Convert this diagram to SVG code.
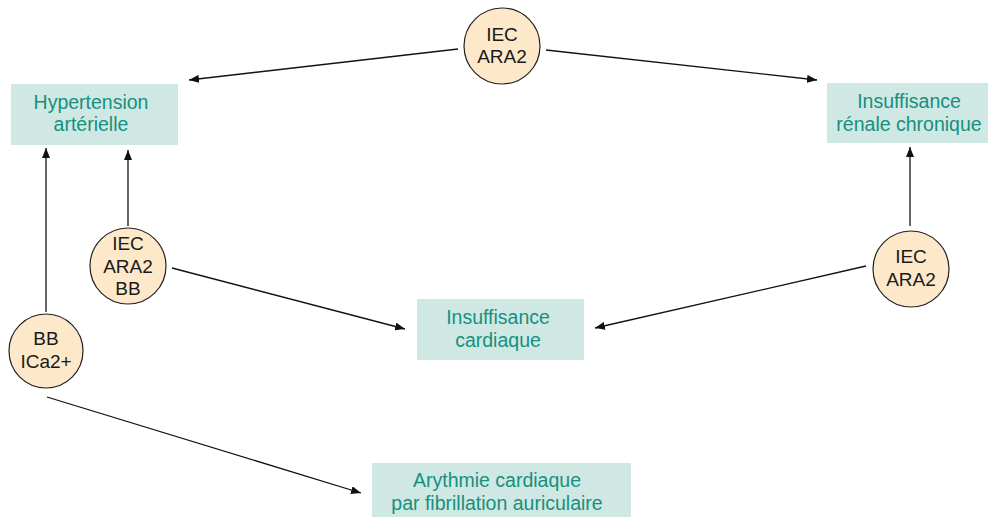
<svg xmlns="http://www.w3.org/2000/svg" width="988" height="517" viewBox="0 0 988 517">
<style>
.box{fill:#cfe8e3}
.bt{font-family:"Liberation Sans",Arial,sans-serif;font-size:19.5px;fill:#16907f;text-anchor:middle}
.node circle{fill:#fde8c9;stroke:#222;stroke-width:1.2}
.ct{font-family:"Liberation Sans",Arial,sans-serif;font-size:19px;fill:#1a1a1a;text-anchor:middle}
.edge{stroke:#111;stroke-width:1.3;fill:none;marker-end:url(#ah)}
</style>
<defs>
<marker id="ah" viewBox="0 0 10 8" refX="10" refY="4" markerWidth="10" markerHeight="8" markerUnits="userSpaceOnUse" orient="auto">
<path d="M0,0 L10,4 L0,8 Z" fill="#111"/>
</marker>
</defs>
<g id="connectors">
<line class="edge" x1="458" y1="49" x2="189" y2="80"/>
<line class="edge" x1="546" y1="50" x2="817" y2="80"/>
<line class="edge" x1="46" y1="312" x2="46" y2="148"/>
<line class="edge" x1="128" y1="226" x2="128" y2="150"/>
<line class="edge" x1="172" y1="268" x2="405" y2="329"/>
<line class="edge" x1="866" y1="266" x2="595" y2="328"/>
<line class="edge" x1="910" y1="226" x2="910" y2="147"/>
<line class="edge" x1="47" y1="397" x2="361" y2="493"/>
</g>
<g id="hta"><rect class="box" x="11" y="84" width="167" height="61"/><text class="bt" x="91" y="108.5">Hypertension</text><text class="bt" x="91" y="131">artérielle</text></g>
<g id="irc"><rect class="box" x="827" y="83" width="161" height="60"/><text class="bt" x="909" y="108">Insuffisance</text><text class="bt" x="909" y="130.5">rénale chronique</text></g>
<g id="ic"><rect class="box" x="417" y="299" width="167" height="61"/><text class="bt" x="498" y="324">Insuffisance</text><text class="bt" x="498" y="346.5">cardiaque</text></g>
<g id="acfa"><rect class="box" x="372" y="463" width="259" height="54"/><text class="bt" x="497" y="487">Arythmie cardiaque</text><text class="bt" x="497" y="509.5">par fibrillation auriculaire</text></g>
<g id="n-top" class="node"><circle cx="502" cy="46" r="38"/><text class="ct" x="502" y="40.5">IEC</text><text class="ct" x="502" y="63">ARA2</text></g>
<g id="n-left" class="node"><circle cx="128" cy="266" r="38"/><text class="ct" x="128" y="250">IEC</text><text class="ct" x="128" y="272.5">ARA2</text><text class="ct" x="128" y="295">BB</text></g>
<g id="n-bb" class="node"><circle cx="46" cy="351" r="37"/><text class="ct" x="46" y="345">BB</text><text class="ct" x="46" y="367.5">ICa2+</text></g>
<g id="n-right" class="node"><circle cx="911" cy="269" r="38"/><text class="ct" x="911" y="263">IEC</text><text class="ct" x="911" y="285.5">ARA2</text></g>
</svg>
